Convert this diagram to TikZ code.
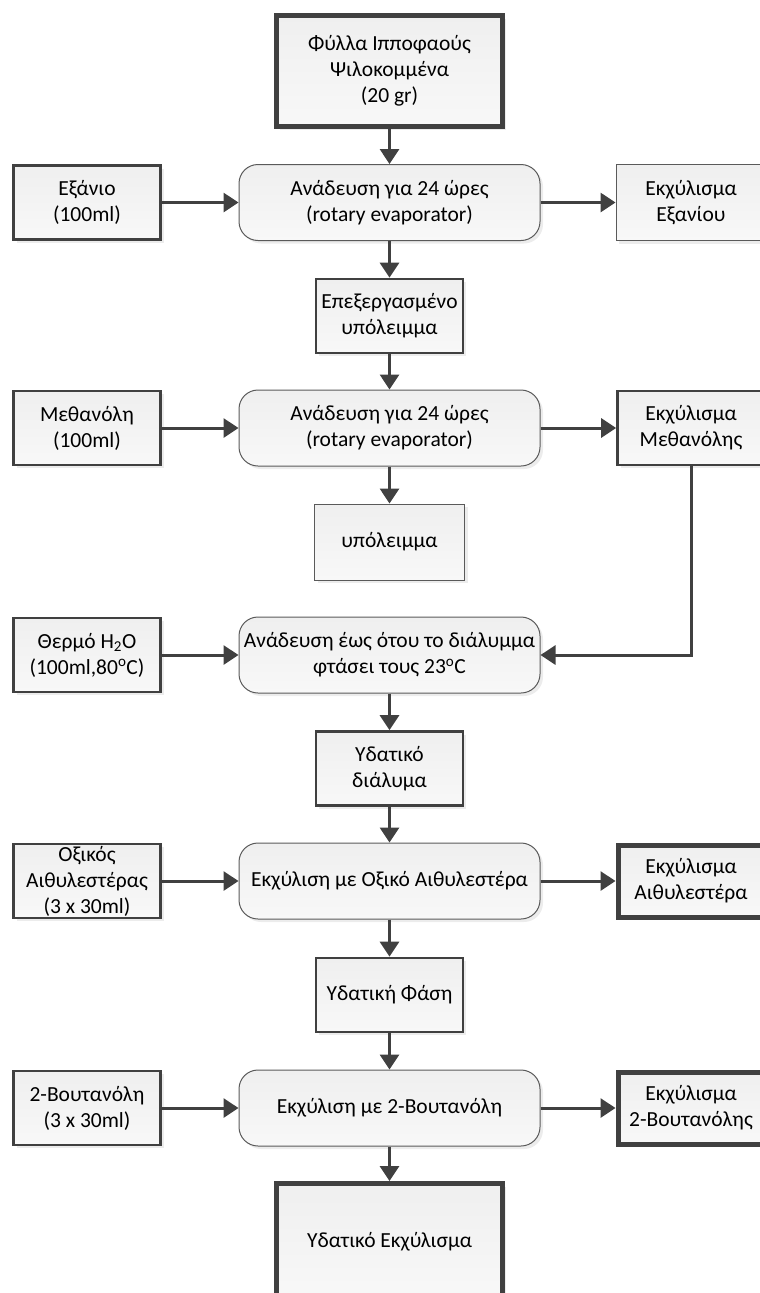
\documentclass[tikz,border=0pt]{standalone}
\usepackage{fontspec}
\setmainfont{Carlito}
\usetikzlibrary{arrows.meta,shadows}
\definecolor{dk}{HTML}{404040}
\definecolor{thin}{HTML}{5A5A5A}
\definecolor{ftop}{HTML}{EFEFEF}
\definecolor{fbot}{HTML}{F8F8F8}
\begin{document}
\begin{tikzpicture}[x=1pt,y=-1pt,
  base/.style={align=center, font=\fontsize{21.5}{26}\selectfont, text=black,
    inner sep=0pt, top color=ftop, bottom color=fbot, shading angle=0,
    drop shadow={shadow xshift=3pt,shadow yshift=-3pt,fill=black!15}},
  sidebox/.style={base, draw=dk, line width=2.6pt, minimum width=147pt, minimum height=74pt},
  thinbox/.style={base, draw=thin, line width=1pt, minimum width=150pt, minimum height=76pt},
  heavybox/.style={base, draw=dk, line width=5pt, minimum width=146pt, minimum height=72pt},
  bigbox/.style={base, draw=dk, line width=5pt, minimum width=226pt, minimum height=111pt},
  procbox/.style={base, draw=thin, line width=1pt, rounded corners=19pt, minimum width=301pt, minimum height=76pt},
  arr/.style={draw=dk, line width=3pt, -{Triangle[length=15pt,width=19pt]}}
]
\useasboundingbox (0,0) rectangle (760,1293);
% rows
\def\cx{389.5}
\def\lx{87}
\def\rx{691}
\node[bigbox] (top) at (\cx,71) {Φύλλα Ιπποφαούς\\Ψιλοκομμένα\\(20 gr)};

\node[sidebox] (l1) at (\lx,202.5) {Εξάνιο\\(100ml)};
\node[procbox] (p1) at (\cx,202.5) {Ανάδευση για 24 ώρες\\(rotary evaporator)};
\node[thinbox] (r1) at (\rx,202.5) {Εκχύλισμα\\Εξανίου};

\node[sidebox] (c1) at (\cx,316) {Επεξεργασμένο\\υπόλειμμα};

\node[sidebox] (l2) at (\lx,428) {Μεθανόλη\\(100ml)};
\node[procbox] (p2) at (\cx,428) {Ανάδευση για 24 ώρες\\(rotary evaporator)};
\node[sidebox] (r2) at (\rx,428) {Εκχύλισμα\\Μεθανόλης};

\node[thinbox] (c2) at (\cx,542) {υπόλειμμα};

\node[sidebox] (l3) at (\lx,655) {Θερμό H\textsubscript{2}O\\(100ml,80\textsuperscript{o}C)};
\node[procbox] (p3) at (\cx,655) {Ανάδευση έως ότου το διάλυμμα\\φτάσει τους 23\textsuperscript{o}C};

\node[sidebox] (c3) at (\cx,768.5) {Υδατικό\\διάλυμα};

\node[sidebox] (l4) at (\lx,881) {Οξικός\\Αιθυλεστέρας\\(3 x 30ml)};
\node[procbox] (p4) at (\cx,881) {Εκχύλιση με Οξικό Αιθυλεστέρα};
\node[heavybox] (r4) at (\rx,881) {Εκχύλισμα\\Αιθυλεστέρα};

\node[sidebox] (c4) at (\cx,995) {Υδατική Φάση};

\node[sidebox] (l5) at (\lx,1108) {2-Βουτανόλη\\(3 x 30ml)};
\node[procbox] (p5) at (\cx,1108) {Εκχύλιση με 2-Βουτανόλη};
\node[heavybox] (r5) at (\rx,1108) {Εκχύλισμα\\2-Βουτανόλης};

\node[bigbox, minimum height=116pt] (bot) at (\cx,1241.5) {Υδατικό Εκχύλισμα};

% connectors
\draw[arr] (top) -- (p1);
\draw[arr] (l1) -- (p1);
\draw[arr] (p1) -- (r1);
\draw[arr] (p1) -- (c1);
\draw[arr] (c1) -- (p2);
\draw[arr] (l2) -- (p2);
\draw[arr] (p2) -- (r2);
\draw[arr] (p2) -- (c2);
\draw[arr] (r2.south) |- (p3.east);
\draw[arr] (l3) -- (p3);
\draw[arr] (p3) -- (c3);
\draw[arr] (c3) -- (p4);
\draw[arr] (l4) -- (p4);
\draw[arr] (p4) -- (r4);
\draw[arr] (p4) -- (c4);
\draw[arr] (c4) -- (p5);
\draw[arr] (l5) -- (p5);
\draw[arr] (p5) -- (r5);
\draw[arr] (p5) -- (bot);
\end{tikzpicture}
\end{document}
